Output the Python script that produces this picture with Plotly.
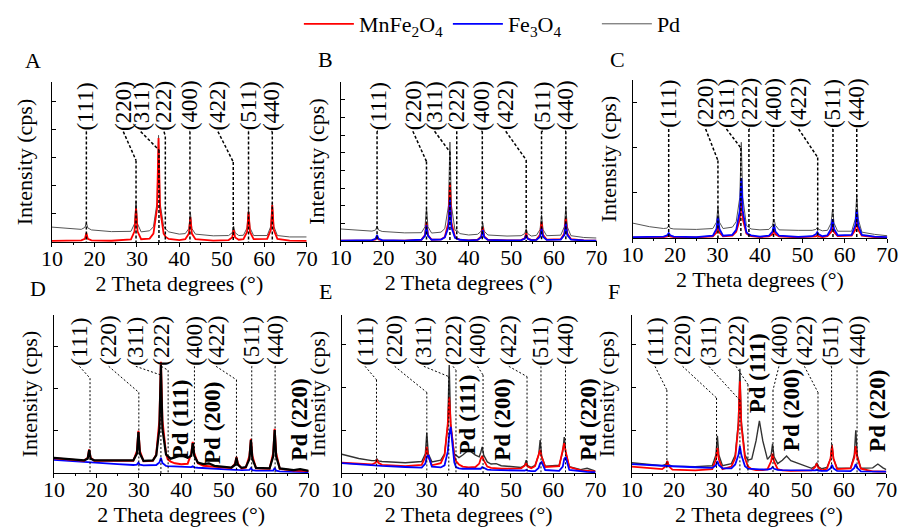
import plotly.graph_objects as go

FONT = "Liberation Serif, Times New Roman, serif"
W, H = 911, 529

# ---------------- data ----------------
SERIES = ["MnFe<sub>2</sub>O<sub>4</sub>", "Fe<sub>3</sub>O<sub>4</sub>", "Pd"]
HKL = ["(111)", "(220)", "(311)", "(222)", "(400)", "(422)", "(511)", "(440)"]
PD_HKL = ["Pd (111)", "Pd (200)", "Pd (220)"]
PANELS = ["A", "B", "C", "D", "E", "F"]

# Panel A (2 theta, intensity in cps)
theta_A = [10, 14, 16.9, 17.75, 18.1, 18.45, 19.3, 24, 28.6, 29.45, 29.8, 30.15, 31.0,
           33.0, 33.9, 34.75, 35.1, 35.45, 36.3, 36.8, 37.5, 40, 41.4, 42.25, 42.6, 42.95,
           43.8, 48, 51.6, 52.45, 52.8, 53.15, 54.0, 55.1, 55.95, 56.3, 56.65, 57.5, 60.7,
           61.55, 61.9, 62.25, 63.1, 66, 70]
mnfe_A = [40, 40, 60, 110, 320, 110, 60, 45, 90, 380, 1200, 380, 100, 120, 300, 1200, 3700,
          1200, 300, 180, 110, 70, 100, 300, 890, 300, 100, 50, 70, 160, 430, 160, 80, 100,
          360, 1070, 360, 100, 110, 430, 1320, 430, 110, 50, 40]
pd_A = [530, 480, 450, 520, 680, 500, 430, 370, 380, 650, 1450, 650, 360, 400, 540, 1400,
        3800, 1400, 560, 460, 360, 280, 300, 480, 1050, 480, 280, 220, 230, 330, 560, 330,
        230, 240, 500, 1150, 500, 230, 230, 560, 1400, 560, 230, 180, 180]

# Panels B and C share the same 2 theta sampling
theta_BC = [10, 14, 17.3, 18.15, 18.5, 18.85, 19.7, 25, 28.9, 29.75, 30.1, 30.45, 31.3,
            33.5, 34.4, 35.25, 35.6, 35.95, 36.8, 37.2, 37.9, 40, 42.1, 42.95, 43.3, 43.65,
            44.5, 49, 52.3, 53.15, 53.5, 53.85, 54.7, 55.9, 56.75, 57.1, 57.45, 58.3, 61.6,
            62.45, 62.8, 63.15, 64.0, 67, 70]
pd_B = [680, 600, 560, 620, 850, 620, 540, 460, 470, 800, 1870, 800, 450, 500, 700, 2000,
        5600, 2000, 600, 620, 420, 340, 380, 560, 1020, 560, 340, 280, 300, 420, 700, 420,
        280, 320, 650, 1470, 650, 300, 330, 800, 1920, 800, 300, 200, 170]
mnfe_B = [20, 20, 40, 90, 230, 90, 40, 25, 70, 340, 1075, 340, 70, 90, 230, 1050, 3280,
          1050, 220, 150, 80, 40, 70, 260, 790, 260, 70, 30, 50, 150, 450, 150, 50, 80, 350,
          1075, 350, 80, 100, 420, 1300, 420, 100, 30, 20]
fe3o4_B = [20, 20, 45, 120, 340, 120, 45, 25, 70, 290, 900, 290, 70, 80, 200, 780, 2430,
           780, 180, 130, 70, 40, 60, 210, 620, 210, 60, 30, 45, 120, 340, 120, 45, 60, 240,
           735, 240, 60, 80, 330, 1020, 330, 80, 30, 20]
pd_C = [330, 250, 210, 220, 270, 215, 200, 190, 210, 350, 680, 350, 210, 240, 360, 900,
        2120, 900, 280, 250, 200, 180, 190, 280, 420, 280, 180, 170, 170, 190, 230, 190,
        160, 170, 330, 640, 330, 150, 150, 420, 950, 420, 130, 80, 50]
mnfe_C = [10, 10, 20, 35, 70, 35, 20, 15, 35, 120, 300, 120, 35, 50, 140, 420, 900, 420,
          100, 70, 40, 20, 35, 80, 180, 80, 35, 15, 20, 35, 60, 35, 20, 40, 130, 280, 130,
          40, 50, 180, 420, 180, 50, 20, 10]
fe3o4_C = [20, 20, 30, 60, 110, 60, 30, 20, 50, 200, 470, 200, 50, 70, 180, 600, 1330, 600,
           130, 90, 60, 30, 50, 140, 300, 140, 50, 25, 40, 80, 130, 80, 40, 60, 200, 420,
           200, 60, 70, 280, 620, 280, 70, 30, 20]

# Panel D
theta_D = [10, 14, 17.1, 17.95, 18.3, 18.65, 19.5, 25, 28.7, 29.55, 29.9, 30.25, 31.1,
           33.3, 34.1, 34.85, 35.2, 35.55, 36.4, 36.8, 37.5, 38.5, 40, 41.5, 42.35, 42.7,
           43.05, 43.9, 45.2, 46.5, 47.8, 51.8, 52.65, 53.0, 53.35, 54.2, 55.2, 56.05, 56.4,
           56.75, 57.6, 60.8, 61.65, 62.0, 62.35, 63.2, 66.5, 68, 69.5, 70]
pd_D = [360, 330, 300, 340, 545, 340, 300, 300, 300, 460, 970, 460, 290, 300, 420, 1050,
        2560, 1050, 440, 400, 340, 370, 430, 360, 410, 710, 410, 250, 210, 230, 170, 130,
        190, 360, 190, 120, 140, 330, 780, 330, 120, 110, 390, 1020, 390, 110, 70, 90, 60, 50]
mnfe_D = [350, 320, 290, 360, 560, 360, 290, 290, 290, 520, 1000, 520, 280, 290, 440, 1250,
          2640, 1250, 460, 330, 270, 230, 210, 220, 470, 740, 470, 230, 170, 160, 150, 120,
          220, 380, 220, 110, 130, 400, 810, 400, 110, 100, 470, 1050, 470, 100, 60, 55, 50, 45]
fe3o4_D = [310, 280, 255, 252, 258, 248, 240, 210, 190, 200, 250, 198, 180, 175, 190, 250,
           360, 240, 170, 165, 160, 155, 145, 140, 140, 160, 135, 125, 115, 105, 95, 75, 75,
           82, 72, 68, 64, 72, 120, 70, 58, 45, 55, 120, 55, 40, 30, 25, 22, 20]

# Panel E
theta_E = [10, 14, 17.1, 17.95, 18.3, 18.65, 19.5, 25, 28.9, 29.75, 30.1, 30.45, 31.3,
           33.4, 34.3, 35.05, 35.4, 35.75, 36.6, 37.0, 37.7, 38.6, 40, 41.6, 42.5, 42.85,
           43.2, 43.55, 44.4, 45.3, 46.5, 47.7, 52.4, 53.25, 53.6, 53.95, 54.8, 55.7, 56.55,
           56.9, 57.25, 58.1, 61.4, 62.25, 62.6, 62.95, 63.8, 66.5, 68, 69.5, 70]
pd_E = [440, 340, 290, 290, 330, 285, 270, 240, 270, 450, 940, 450, 260, 300, 450, 1100,
        2530, 1100, 450, 420, 360, 420, 540, 420, 380, 480, 610, 420, 260, 210, 220, 170,
        130, 180, 300, 170, 130, 180, 420, 770, 400, 160, 180, 500, 840, 480, 150, 80, 110,
        60, 40]
mnfe_E = [240, 210, 200, 240, 300, 240, 190, 160, 190, 380, 610, 380, 180, 230, 420, 1150,
          1780, 1150, 400, 280, 200, 150, 130, 140, 220, 330, 400, 300, 150, 120, 110, 100,
          110, 170, 230, 150, 110, 160, 430, 540, 380, 140, 160, 560, 700, 500, 140, 60, 50,
          40, 40]
fe3o4_E = [230, 200, 180, 175, 180, 170, 165, 140, 125, 220, 380, 420, 150, 130, 180, 500,
           900, 1080, 250, 140, 110, 100, 95, 90, 90, 100, 140, 120, 80, 75, 70, 65, 50, 55,
           70, 55, 45, 45, 120, 230, 260, 70, 50, 150, 330, 370, 70, 30, 25, 20, 20]

# Panel F
theta_F = [10, 14, 17.2, 18.05, 18.4, 18.75, 19.6, 25, 29.0, 29.85, 30.2, 30.55, 31.4,
           33.5, 34.4, 35.15, 35.5, 35.85, 36.7, 37.4, 38.3, 39.3, 40.1, 40.9, 42.0, 42.85,
           43.2, 43.55, 44.4, 45.5, 46.5, 47.5, 52.4, 53.25, 53.6, 53.95, 54.8, 56.0, 56.85,
           57.2, 57.55, 58.4, 61.6, 62.45, 62.8, 63.15, 64.0, 66.8, 68.0, 69.2, 70]
pd_F = [240, 200, 170, 200, 280, 190, 160, 150, 170, 420, 870, 420, 170, 220, 420, 1200,
        2440, 1200, 420, 300, 330, 750, 1220, 750, 320, 420, 680, 380, 220, 300, 400, 290,
        110, 160, 240, 150, 100, 130, 330, 680, 330, 110, 120, 420, 1000, 420, 110, 120,
        210, 120, 80]
mnfe_F = [150, 110, 90, 160, 280, 160, 80, 60, 90, 320, 590, 320, 90, 150, 350, 1100, 2150,
          1100, 350, 150, 90, 70, 60, 65, 90, 270, 450, 270, 90, 60, 55, 50, 60, 140, 220,
          130, 60, 100, 340, 640, 340, 90, 110, 360, 630, 360, 100, 40, 35, 30, 30]
fe3o4_F = [210, 185, 170, 168, 172, 163, 158, 135, 120, 180, 280, 180, 110, 110, 200, 420,
           630, 420, 160, 100, 90, 88, 85, 82, 80, 100, 140, 100, 72, 68, 65, 62, 52, 60, 75,
           58, 50, 50, 110, 190, 110, 48, 45, 120, 210, 120, 40, 35, 32, 30, 30]

# reflection (2 theta) positions marked by the dashed guide lines
refl_A = [18.1, 29.8, 35.2, 36.7, 42.5, 52.7, 56.3, 61.9]
refl_B = [18.5, 30.1, 35.6, 37.2, 43.2, 53.5, 57.1, 62.8]
refl_C = [18.5, 30.1, 35.5, 37.4, 43.2, 53.6, 57.2, 62.8]
refl_D = [18.5, 30.0, 35.2, 36.9, 43.1, 53.0, 56.6, 62.1]
refl_E = [18.2, 30.1, 35.3, 37.0, 43.4, 53.8, 57.1, 62.9]
refl_F = [18.3, 30.0, 35.5, 37.4, 43.3, 53.9, 57.1, 63.1]

# ---------------- layout / style ----------------
RED, BLUE = "#ff0000", "#0000ff"

def fx(p):
    return p / W

def fy(p):
    return 1 - p / H

panels = [
    dict(name="A", box=(42, 303, 82, 242), ymax=5700, ystand=12,
         curves=[(theta_A, pd_A, 2, "#555555", 1.0), (theta_A, mnfe_A, 0, RED, 1.8)],
         refl=refl_A, lab_x=[18.0, 26.8, 30.9, 36.4, 42.4, 49.1, 56.2, 61.7],
         lab_bot=0.69, knee=[0.69, 0.51, 0.575, 0.66, 0.69, 0.5, 0.69, 0.69],
         letter=(23, 61), dash="3px,2px", dw=1.5),
    dict(name="B", box=(338, 600, 82, 241), ymax=9000, ystand=9,
         curves=[(theta_BC, pd_B, 2, "#555555", 1.0), (theta_BC, mnfe_B, 0, RED, 1.8),
                 (theta_BC, fe3o4_B, 1, BLUE, 1.8)],
         refl=refl_B, lab_x=[18.7, 26.9, 32.0, 37.2, 43.0, 48.7, 57.4, 62.6],
         lab_bot=0.69, knee=[0.69, 0.5, 0.56, 0.69, 0.69, 0.51, 0.69, 0.69],
         letter=(322, 60), dash="3px,2px", dw=1.5),
    dict(name="C", box=(637, 898, 80, 238), ymax=3500, ystand=8,
         curves=[(theta_BC, pd_C, 2, "#555555", 1.0), (theta_BC, mnfe_C, 0, RED, 1.8),
                 (theta_BC, fe3o4_C, 1, BLUE, 1.8)],
         refl=refl_C, lab_x=[18.5, 27.2, 32.1, 37.6, 43.3, 49.1, 57.1, 62.9],
         lab_bot=0.69, knee=[0.69, 0.49, 0.57, 0.69, 0.69, 0.51, 0.69, 0.69],
         letter=(621, 60), dash="3px,2px", dw=1.5),
    dict(name="D", box=(44, 305, 315, 473), ymax=3750, ystand=9,
         curves=[(theta_D, fe3o4_D, 1, BLUE, 1.8), (theta_D, mnfe_D, 0, RED, 2.0),
                 (theta_D, pd_D, 2, "#000000", 2.2)],
         refl=refl_D, lab_x=[16.0, 22.9, 29.3, 35.3, 43.1, 48.2, 56.7, 62.2],
         lab_bot=0.675, knee=[0.60, 0.51, 0.62, 0.65, 0.675, 0.59, 0.675, 0.675],
         pd_x=[39.7, 47.2, 67.9], pd_bot=[0.08, 0.05, 0.07],
         letter=(28, 288), dash="2px,2px", dw=1.0),
    dict(name="E", box=(339, 599, 315, 473), ymax=3700, ystand=9,
         curves=[(theta_E, pd_E, 2, "#333333", 1.4), (theta_E, mnfe_E, 0, RED, 1.8),
                 (theta_E, fe3o4_E, 1, BLUE, 1.8)],
         refl=refl_E, lab_x=[15.5, 22.5, 29.4, 36.3, 42.1, 49.5, 57.1, 62.9],
         lab_bot=0.675, knee=[0.59, 0.51, 0.61, 0.65, 0.62, 0.61, 0.675, 0.675],
         pd_x=[39.8, 48.1, 68.4], pd_bot=[0.11, 0.07, 0.07],
         letter=(322, 291), dash="2px,2px", dw=1.0),
    dict(name="F", box=(636, 897, 315, 473), ymax=3700, ystand=9,
         curves=[(theta_F, pd_F, 2, "#333333", 1.4), (theta_F, mnfe_F, 0, RED, 1.8),
                 (theta_F, fe3o4_F, 1, BLUE, 1.8)],
         refl=refl_F, lab_x=[15.5, 22.0, 28.2, 34.6, 44.7, 50.7, 56.9, 63.1],
         lab_bot=0.675, knee=[0.525, 0.475, 0.46, 0.56, 0.525, 0.51, 0.675, 0.675],
         pd_x=[39.7, 47.7, 67.9], pd_bot=[0.37, 0.13, 0.13],
         letter=(618, 291), dash="2px,2px", dw=1.0),
]

fig = go.Figure()
shapes, annotations = [], []
legend_done = set()
layout = {}

for k, p in enumerate(panels, start=1):
    sx = "" if k == 1 else str(k)
    xa, ya = "x" + sx, "y" + sx
    x0, x1, y0, y1 = p["box"]
    for (xs, ys, s, color, width) in p["curves"]:
        show = s not in legend_done
        legend_done.add(s)
        fig.add_trace(go.Scatter(
            x=xs, y=ys, mode="lines", name=SERIES[s], legendgroup=SERIES[s],
            showlegend=show, legendrank=s + 1,
            line=dict(color=color, width=width), xaxis=xa, yaxis=ya,
            hoverinfo="skip"))
    layout["xaxis" + sx] = dict(
        domain=[fx(x0), fx(x1)], anchor=ya, range=[10, 70], tick0=10, dtick=10,
        ticks="outside", ticklen=4, tickwidth=1, tickcolor="black", ticklabelstandoff=-7,
        minor=dict(dtick=5, tick0=10, ticks="outside", ticklen=2, tickcolor="black"),
        showline=True, linecolor="black", linewidth=1, showgrid=False, zeroline=False,
        tickfont=dict(family=FONT, size=22, color="black"),
        title=dict(text="2 Theta degrees (°)", font=dict(family=FONT, size=22, color="black"),
                   standoff=5))
    layout["yaxis" + sx] = dict(
        domain=[fy(y1), fy(y0)], anchor=xa, range=[0, p["ymax"]], tick0=0, dtick=1000,
        ticks="inside", ticklen=4, tickcolor="black", showticklabels=False,
        showline=True, linecolor="black", linewidth=1, showgrid=False, zeroline=False,
        title=dict(text="Intensity (cps)", font=dict(family=FONT, size=22, color="black"),
                   standoff=p["ystand"]))
    dref = ya + " domain"
    line_style = dict(color="black", width=p["dw"], dash=p["dash"])
    for i, lab in enumerate(HKL):
        lx, rx, kn = p["lab_x"][i], p["refl"][i], p["knee"][i]
        annotations.append(dict(
            x=lx, y=p["lab_bot"], xref=xa, yref=dref, text=lab, showarrow=False,
            textangle=-90, xanchor="center", yanchor="bottom", borderpad=0,
            font=dict(family=FONT, size=23, color="black")))
        if abs(lx - rx) > 0.05 or kn < p["lab_bot"]:
            shapes.append(dict(type="line", xref=xa, yref=dref, x0=lx, y0=p["lab_bot"],
                               x1=rx, y1=kn, line=line_style))
        shapes.append(dict(type="line", xref=xa, yref=dref, x0=rx, y0=kn, x1=rx, y1=0,
                           line=line_style))
    for i, lab in enumerate(PD_HKL if "pd_x" in p else []):
        annotations.append(dict(
            x=p["pd_x"][i], y=p["pd_bot"][i], xref=xa, yref=dref, text="<b>%s</b>" % lab,
            showarrow=False, textangle=-90, xanchor="center", yanchor="bottom", borderpad=0,
            font=dict(family=FONT, size=23, color="black")))
    lx_, ly_ = p["letter"]
    annotations.append(dict(
        x=fx(lx_), y=fy(ly_), xref="paper", yref="paper", text=p["name"], showarrow=False,
        xanchor="center", yanchor="middle", font=dict(family=FONT, size=22, color="black")))

fig.update_layout(
    **layout,
    width=W, height=H, margin=dict(l=0, r=0, t=0, b=0),
    paper_bgcolor="white", plot_bgcolor="white",
    shapes=shapes, annotations=annotations,
    showlegend=True,
    legend=dict(orientation="h", x=fx(295), xanchor="left", y=fy(24), yanchor="middle",
                font=dict(family=FONT, size=22, color="black"), bgcolor="rgba(0,0,0,0)",
                itemwidth=50, tracegroupgap=0, entrywidth=84),
    font=dict(family=FONT, size=22, color="black"),
)

fig.write_html("out.html")
